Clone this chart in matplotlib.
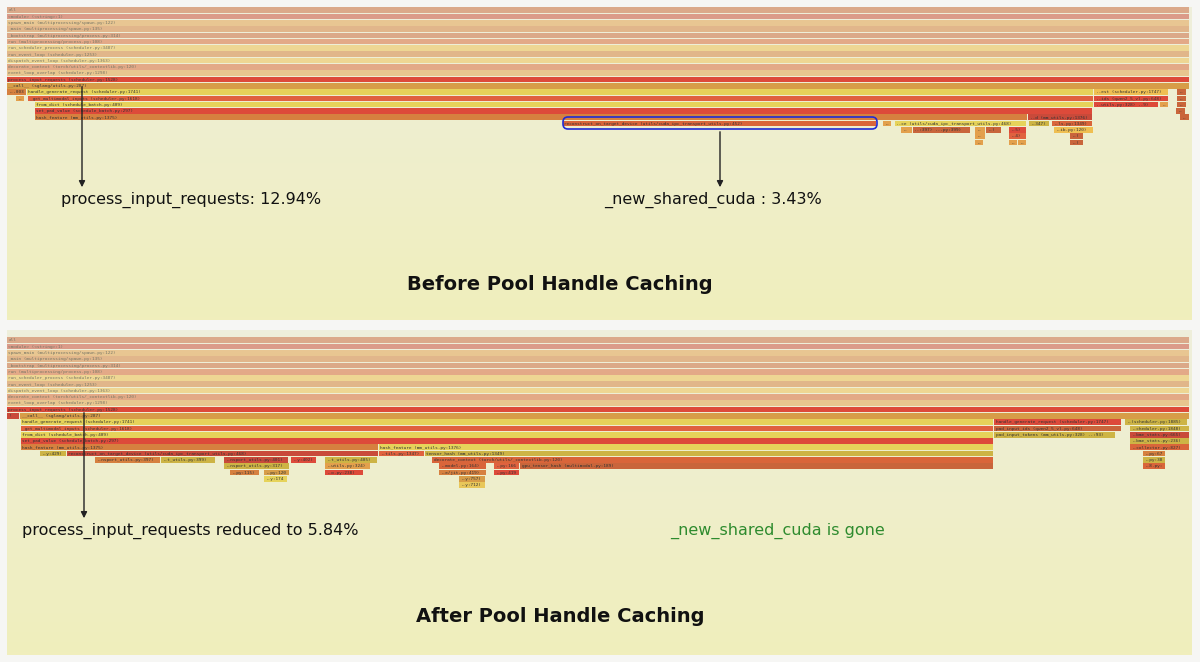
import numpy as np
import matplotlib.pyplot as plt
from matplotlib.patches import Rectangle, FancyBboxPatch

# stack rows shared by both profiles (full width)
base_stack = ["all", "<module> (<string>:1)", "spawn_main (multiprocessing/spawn.py:122)",
              "_main (multiprocessing/spawn.py:135)", "_bootstrap (multiprocessing/process.py:314)",
              "run (multiprocessing/process.py:108)", "run_scheduler_process (scheduler.py:3487)",
              "run_event_loop (scheduler.py:1253)", "dispatch_event_loop (scheduler.py:1363)",
              "decorate_context (torch/utils/_contextlib.py:120)", "event_loop_overlap (scheduler.py:1298)"]

# frames: (label, start, end, depth)  -- x in image pixels
before_frames = [
    ("process_input_requests (scheduler.py:1528)", 7, 1190, 11),
    ("__call__ (sglang/utils.py:287)", 7, 1190, 12),
    ("...0032", 7, 27, 13), ("handle_generate_request (scheduler.py:1741)", 27, 1094, 13),
    ("..est (scheduler.py:1747)", 1094, 1169, 13), ("..)", 1177, 1187, 13),
    ("..", 16, 25, 14), ("_get_multimodal_inputs (scheduler.py:1618)", 28, 1094, 14),
    ("..ids (qwen2_5_vl.py:648)", 1094, 1169, 14), ("..)", 1177, 1187, 14),
    ("from_dict (schedule_batch.py:409)", 35, 1094, 15), ("..utils.py:328) ..9)", 1094, 1159, 15),
    ("..", 1160, 1169, 15), ("..)", 1177, 1187, 15),
    ("set_pad_value (schedule_batch.py:297)", 35, 1093, 16), ("..)", 1176, 1186, 16),
    ("hash_feature (mm_utils.py:1375)", 35, 1028, 17), ("..d (mm_utils.py:1376)", 1028, 1093, 17),
    ("..)", 1180, 1190, 17),
    ("reconstruct_on_target_device (utils/cuda_ipc_transport_utils.py:452)", 563, 877, 18),
    ("..", 883, 892, 18), ("..ce (utils/cuda_ipc_transport_utils.py:468)", 895, 1027, 18),
    ("..347)", 1029, 1050, 18), ("..ls.py:1349)", 1052, 1093, 18),
    ("..", 901, 913, 19), ("..:397) ...py:399)", 913, 971, 19), ("..", 975, 986, 19),
    ("..)", 986, 1002, 19), ("..5)", 1009, 1027, 19), ("..ib.py:120)", 1054, 1094, 19),
    ("..", 975, 986, 20), ("..4)", 1009, 1027, 20), ("..)", 1070, 1084, 20),
    ("..", 975, 984, 21), ("..", 1009, 1018, 21), ("..", 1018, 1027, 21), ("..)", 1070, 1084, 21),
]

after_frames = [
    ("process_input_requests (scheduler.py:1528)", 7, 1190, 11),
    ("!", 7, 20, 12), ("__call__ (sglang/utils.py:287)", 20, 1190, 12),
    ("handle_generate_request (scheduler.py:1741)", 21, 994, 13),
    ("handle_generate_request (scheduler.py:1747)", 994, 1122, 13),
    ("..(scheduler.py:1885)", 1125, 1188, 13),
    ("_get_multimodal_inputs (scheduler.py:1618)", 21, 994, 14),
    ("pad_input_ids (qwen2_5_vl.py:648)", 994, 1122, 14), ("..cheduler.py:1848)", 1130, 1190, 14),
    ("from_dict (schedule_batch.py:409)", 21, 994, 15),
    ("pad_input_tokens (mm_utils.py:328) ..:93)", 994, 1116, 15), ("..bme_stats.py:665)", 1130, 1190, 15),
    ("set_pad_value (schedule_batch.py:297)", 21, 994, 16), ("..bme_stats.py:236)", 1130, 1190, 16),
    ("hash_feature (mm_utils.py:1375)", 21, 379, 17), ("hash_feature (mm_utils.py:1376)", 379, 994, 17),
    ("..collector.py:827)", 1130, 1190, 17),
    ("..y:429)", 40, 67, 18), ("reconstruct_on_target_device (utils/cuda_ipc_transport_utils.py:468)", 67, 379, 18),
    ("..tils.py:1347)", 379, 425, 18), ("tensor_hash (mm_utils.py:1349)", 425, 994, 18),
    ("..py:676)", 1143, 1166, 18),
    ("..nsport_utils.py:397)", 95, 161, 19), ("..t_utils.py:399)", 161, 216, 19),
    ("..nsport_utils.py:401)", 224, 289, 19), ("..y:402)", 291, 317, 19),
    ("..t_utils.py:405)", 325, 378, 19),
    ("decorate_context (torch/utils/_contextlib.py:120)", 432, 994, 19), ("..py:380)", 1143, 1166, 19),
    ("..nsport_utils.py:317)", 224, 290, 20), ("..utils.py:324)", 325, 371, 20),
    ("..model.py:164)", 439, 487, 20), ("..py:166)", 494, 520, 20),
    ("gpu_tensor_hash (multimodal.py:189)", 520, 994, 20), ("..8.py:88)", 1143, 1166, 20),
    ("..py:115)", 230, 260, 21), ("..py:120)", 264, 290, 21), ("..o.py:238)", 325, 364, 21),
    ("..e/jit.py:419)", 439, 487, 21), ("..py:419)", 494, 520, 21),
    ("..y:174)", 264, 288, 22), ("..y:757)", 459, 486, 22),
    ("..y:712)", 459, 486, 23),
]

palette = ["#e6d35a", "#c9653b", "#d9653a", "#cdb445", "#efbf52", "#e0623f", "#dd4a3a",
           "#d79d48", "#e3a04c", "#c94a3a", "#e8c75a", "#d6803f"]


def pick_color(name):
    return palette[sum(ord(c) for c in name) % len(palette)]


def draw_panel(ax, top, bottom, frames, row0, pitch):
    grad = np.linspace(0, 1, 100)[:, None]
    ax.imshow(grad, extent=(7, 1192, bottom, top), aspect="auto", zorder=0,
              cmap=plt.matplotlib.colors.LinearSegmentedColormap.from_list(
                  "bg", ["#eeeedb", "#f0eebc"]))
    allf = [(n, 7, 1190, i) for i, n in enumerate(base_stack)] + frames
    for name, x0, x1, d in allf:
        y = row0 + d * pitch
        alpha = 0.5 if d < 11 else 1.0
        ax.add_patch(Rectangle((x0, y), x1 - x0 - 0.6, pitch - 0.6,
                               facecolor=pick_color(name), alpha=alpha, lw=0, zorder=2))
        nchar = int((x1 - x0 - 3) / 2.75)
        if nchar < 2:
            continue
        label = name if len(name) <= nchar else name[:nchar]
        ax.text(x0 + 1.5, y + pitch / 2, label, fontsize=3.2, family="DejaVu Sans Mono",
                va="center", ha="left", color="#333333" if d >= 11 else "#777766", zorder=3)


fig = plt.figure(figsize=(12, 6.62), dpi=100)
fig.patch.set_facecolor("#f6f6f4")
ax = fig.add_axes([0, 0, 1, 1])
ax.set_xlim(0, 1200)
ax.set_ylim(662, 0)
ax.axis("off")

draw_panel(ax, 7, 320, before_frames, 7.3, 6.3)
draw_panel(ax, 330, 655, after_frames, 337.3, 6.3)

# highlight box around reconstruct frame
ax.add_patch(FancyBboxPatch((563, 117), 314, 12, boxstyle="round,pad=0,rounding_size=5",
                            fill=False, ec="#1f2bd6", lw=1.2, zorder=4))

arrow = dict(arrowstyle="-|>", color="#222222", lw=1.0, mutation_scale=9)
ax.annotate("", xy=(82, 190), xytext=(82, 84), arrowprops=arrow, zorder=5)
ax.annotate("", xy=(720, 190), xytext=(720, 129), arrowprops=arrow, zorder=5)
ax.annotate("", xy=(84, 521), xytext=(84, 410), arrowprops=arrow, zorder=5)

ax.text(61, 200, "process_input_requests: 12.94%", fontsize=11.5, va="center", color="#111111")
ax.text(604, 200, "_new_shared_cuda : 3.43%", fontsize=11.5, va="center", color="#111111")
ax.text(560, 285, "Before Pool Handle Caching", fontsize=14, fontweight="bold", ha="center",
        va="center", color="#111111")
ax.text(22, 531, "process_input_requests reduced to 5.84%", fontsize=11.5, va="center", color="#111111")
ax.text(670, 531, "_new_shared_cuda is gone", fontsize=11.5, va="center", color="#2e8b2e")
ax.text(560, 617, "After Pool Handle Caching", fontsize=14, fontweight="bold", ha="center",
        va="center", color="#111111")

plt.savefig("out.png", dpi=100, facecolor=fig.get_facecolor())
